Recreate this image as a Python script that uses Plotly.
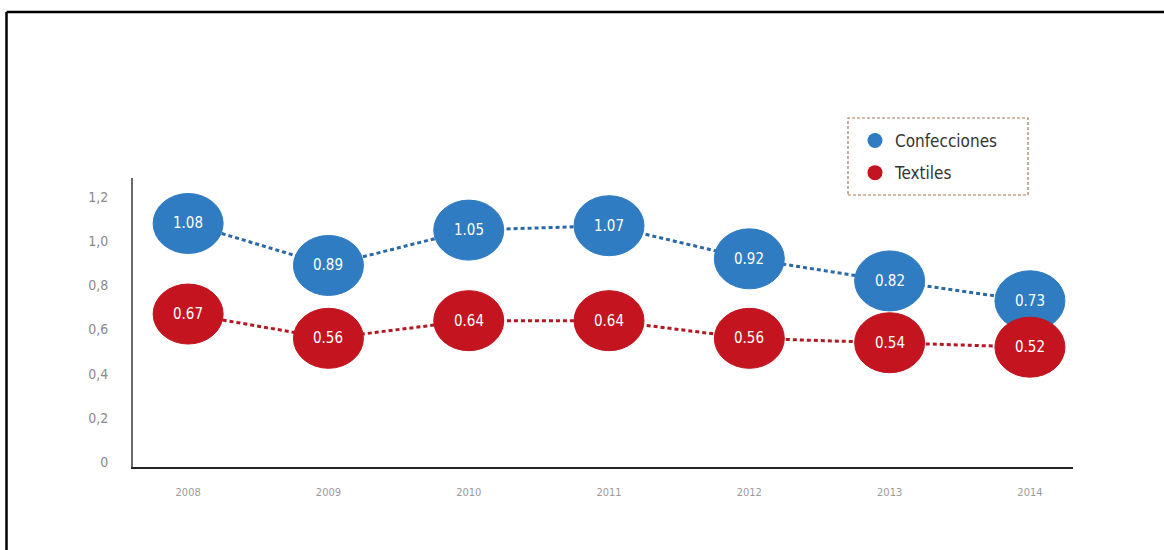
import plotly.graph_objects as go

years = [2008, 2009, 2010, 2011, 2012, 2013, 2014]
confecciones = [1.08, 0.89, 1.05, 1.07, 0.92, 0.82, 0.73]
textiles = [0.67, 0.56, 0.64, 0.64, 0.56, 0.54, 0.52]
series_names = ["Confecciones", "Textiles"]
y_tick_vals = [0, 0.2, 0.4, 0.6, 0.8, 1.0, 1.2]
y_tick_text = ["0", "0,2", "0,4", "0,6", "0,8", "1,0", "1,2"]
x_tick_text = ["2008", "2009", "2010", "2011", "2012", "2013", "2014"]

BLUE = "#2f7cc2"
RED = "#c3141f"
LINE_BLUE = "#2a68a8"
LINE_RED = "#b01822"
FONT = "Liberation Sans Narrow, DejaVu Sans Condensed, Arial Narrow, sans-serif"

W, H = 1164, 550
L, R, T, B = 133, 91, 178, 83
pw, ph = W - L - R, H - T - B

x_range = [2007.607, 2014.307]
y_range = [-0.0226, 1.286]
px_x = pw / (x_range[1] - x_range[0])
px_y = ph / (y_range[1] - y_range[0])
rx = 35 / px_x
ry = 30 / px_y

fig = go.Figure()

shapes = []
annotations = []
for name, vals, col, lcol in [(series_names[0], confecciones, BLUE, LINE_BLUE),
                              (series_names[1], textiles, RED, LINE_RED)]:
    fig.add_trace(go.Scatter(
        x=years, y=vals, mode="lines", showlegend=False, hoverinfo="skip",
        line=dict(color=lcol, width=3, dash="4px,3px"),
    ))
    fig.add_trace(go.Scatter(
        x=[None], y=[None], mode="markers", name=name, legendgroup=name,
        marker=dict(color=col, size=15, symbol="circle"),
    ))
    for xv, yv in zip(years, vals):
        shapes.append(dict(
            type="circle", xref="x", yref="y", layer="above",
            x0=xv - rx, x1=xv + rx, y0=yv - ry, y1=yv + ry,
            fillcolor=col, line=dict(color=col, width=1),
        ))
        annotations.append(dict(
            x=xv, y=yv, xref="x", yref="y", text=f"{yv:.2f}", showarrow=False,
            font=dict(family=FONT, size=15, color="white"),
        ))

# legend box (dashed)
lx0, lx1 = (848 - L) / pw, (1028 - L) / pw
ly0, ly1 = (H - B - 195) / ph, (H - B - 118) / ph
shapes.append(dict(type="rect", xref="paper", yref="paper", x0=lx0, x1=lx1, y0=ly0, y1=ly1,
                   line=dict(color="#a37a5c", width=1.2, dash="3px,2px"), layer="below"))

# outer frame lines (top and left)
fx = (6.5 - L) / pw
fy = (H - B - 12) / ph
shapes.append(dict(type="line", xref="paper", yref="paper", x0=fx, x1=(W + 10 - L) / pw, y0=fy, y1=fy,
                   line=dict(color="black", width=2.5)))
shapes.append(dict(type="line", xref="paper", yref="paper", x0=fx, x1=fx, y0=fy, y1=-(B + 10) / ph,
                   line=dict(color="black", width=2.5)))

fig.update_layout(
    width=W, height=H,
    margin=dict(l=L, r=R, t=T, b=B),
    paper_bgcolor="white", plot_bgcolor="white",
    shapes=shapes, annotations=annotations,
    showlegend=True,
    legend=dict(
        x=(855 - L) / pw, y=(H - B - 123) / ph, xanchor="left", yanchor="top",
        font=dict(family=FONT, size=17, color="#333333"),
        bgcolor="rgba(0,0,0,0)", tracegroupgap=7, traceorder="grouped",
        itemsizing="trace", itemwidth=30,
    ),
    xaxis=dict(
        range=x_range, tickmode="array", tickvals=years, ticktext=x_tick_text,
        showgrid=False, zeroline=False, showline=True, linecolor="#222222", linewidth=2,
        ticks="", tickfont=dict(family=FONT, size=11, color="#9a9a9a"),
        ticklabelstandoff=14,
    ),
    yaxis=dict(
        range=y_range, tickmode="array", tickvals=y_tick_vals, ticktext=y_tick_text,
        showgrid=False, zeroline=False, showline=True, linecolor="#6a6a6a", linewidth=2,
        ticks="", tickfont=dict(family=FONT, size=14, color="#8a8a8a"),
        ticklabelstandoff=20,
    ),
)

fig.write_html("out.html")
